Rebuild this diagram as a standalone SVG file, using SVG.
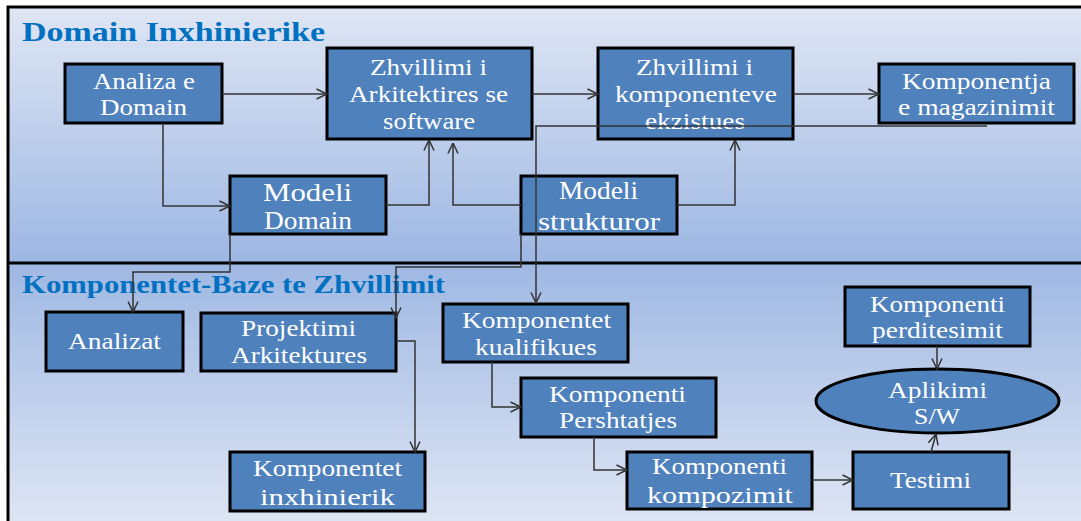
<svg xmlns="http://www.w3.org/2000/svg" width="1081" height="521" viewBox="0 0 1081 521">
<defs>
<linearGradient id="gTop" x1="0" y1="0" x2="0" y2="1">
<stop offset="0" stop-color="#dfe6f4"/>
<stop offset="1" stop-color="#9db7e3"/>
</linearGradient>
<linearGradient id="gBot" x1="0" y1="0" x2="0" y2="1">
<stop offset="0" stop-color="#9fb8e3"/>
<stop offset="1" stop-color="#e0e7f4"/>
</linearGradient>
<marker id="arr" viewBox="0 0 12 12" refX="11.5" refY="6" markerWidth="12" markerHeight="12" markerUnits="userSpaceOnUse" orient="auto">
<path d="M1,1 L11.5,6 L1,11" fill="none" stroke="#333" stroke-width="1.5"/>
</marker>
</defs>
<style>
.box{fill:#4f81bd;stroke:#000;stroke-width:3}
.t{font-family:"Liberation Serif","Times New Roman",serif;font-size:23px;fill:#fff;text-anchor:middle}
.big{font-size:25px}
.title{font-family:"Liberation Serif","Times New Roman",serif;font-weight:bold;fill:#0070c0}
.c{fill:none;stroke:#333;stroke-width:1.5;marker-end:url(#arr)}
</style>
<rect x="0" y="0" width="1081" height="521" fill="#ffffff"/>
<rect x="8" y="7" width="1100" height="256" fill="url(#gTop)"/>
<rect x="8" y="263" width="1100" height="270" fill="url(#gBot)"/>
<path d="M8,540 L8,7 L1090,7" fill="none" stroke="#000" stroke-width="3"/>
<line x1="8" y1="263" x2="1090" y2="263" stroke="#000" stroke-width="3"/>
<text class="title" x="22" y="41" font-size="28" textLength="303" lengthAdjust="spacingAndGlyphs">Domain Inxhinierike</text>
<text class="title" x="22" y="293" font-size="25" textLength="423" lengthAdjust="spacingAndGlyphs">Komponentet-Baze te Zhvillimit</text>

<g id="analiza">
<rect class="box" x="65" y="64" width="157" height="59"/>
<text class="t" x="144" y="89" textLength="102" lengthAdjust="spacingAndGlyphs">Analiza e</text>
<text class="t" x="143.5" y="115" textLength="87" lengthAdjust="spacingAndGlyphs">Domain</text>
</g>
<g id="zhvArk">
<rect class="box" x="327" y="48" width="205" height="91"/>
<text class="t" x="428.5" y="75" textLength="117" lengthAdjust="spacingAndGlyphs">Zhvillimi i</text>
<text class="t" x="428.5" y="102" textLength="159" lengthAdjust="spacingAndGlyphs">Arkitektires se</text>
<text class="t" x="429" y="129" textLength="92" lengthAdjust="spacingAndGlyphs">software</text>
</g>
<g id="zhvKomp">
<rect class="box" x="598" y="48" width="195" height="91"/>
<text class="t" x="694.5" y="75" textLength="117" lengthAdjust="spacingAndGlyphs">Zhvillimi i</text>
<text class="t" x="696" y="102" textLength="162" lengthAdjust="spacingAndGlyphs">komponenteve</text>
<text class="t" x="695" y="129" textLength="100" lengthAdjust="spacingAndGlyphs">ekzistues</text>
</g>
<g id="magazinimit">
<rect class="box" x="879" y="64" width="195" height="59"/>
<text class="t" x="976.5" y="89" textLength="149" lengthAdjust="spacingAndGlyphs">Komponentja</text>
<text class="t" x="976.5" y="115" textLength="157" lengthAdjust="spacingAndGlyphs">e magazinimit</text>
</g>
<g id="modeliDomain">
<rect class="box" x="230" y="176" width="156" height="58"/>
<text class="t big" x="307.5" y="201" textLength="89" lengthAdjust="spacingAndGlyphs">Modeli</text>
<text class="t big" x="308" y="229" textLength="88" lengthAdjust="spacingAndGlyphs">Domain</text>
</g>
<g id="modeliStrukturor">
<rect class="box" x="521" y="176" width="156" height="58"/>
<text class="t big" x="598.5" y="199" textLength="79" lengthAdjust="spacingAndGlyphs">Modeli</text>
<text class="t big" x="599" y="230" textLength="122" lengthAdjust="spacingAndGlyphs">strukturor</text>
</g>
<g id="analizat">
<rect class="box" x="46" y="312" width="137" height="59"/>
<text class="t" x="114.5" y="349" textLength="93" lengthAdjust="spacingAndGlyphs">Analizat</text>
</g>
<g id="projektimi">
<rect class="box" x="201" y="313" width="195" height="58"/>
<text class="t" x="298.5" y="336" textLength="115" lengthAdjust="spacingAndGlyphs">Projektimi</text>
<text class="t" x="299" y="363" textLength="136" lengthAdjust="spacingAndGlyphs">Arkitektures</text>
</g>
<g id="inxhinierik">
<rect class="box" x="230" y="452" width="195" height="59"/>
<text class="t" x="327.5" y="476" textLength="149" lengthAdjust="spacingAndGlyphs">Komponentet</text>
<text class="t" x="327.5" y="505" textLength="135" lengthAdjust="spacingAndGlyphs">inxhinierik</text>
</g>
<g id="kualifikues">
<rect class="box" x="443" y="304" width="185" height="58"/>
<text class="t" x="536.5" y="328" textLength="149" lengthAdjust="spacingAndGlyphs">Komponentet</text>
<text class="t" x="536" y="355" textLength="122" lengthAdjust="spacingAndGlyphs">kualifikues</text>
</g>
<g id="pershtatjes">
<rect class="box" x="521" y="378" width="195" height="59"/>
<text class="t" x="617.5" y="402" textLength="137" lengthAdjust="spacingAndGlyphs">Komponenti</text>
<text class="t" x="618" y="428" textLength="118" lengthAdjust="spacingAndGlyphs">Pershtatjes</text>
</g>
<g id="kompozimit">
<rect class="box" x="627" y="452" width="185" height="57"/>
<text class="t" x="719.5" y="474" textLength="135" lengthAdjust="spacingAndGlyphs">Komponenti</text>
<text class="t" x="720" y="503" textLength="146" lengthAdjust="spacingAndGlyphs">kompozimit</text>
</g>
<g id="perditesimit">
<rect class="box" x="845" y="287" width="185" height="59"/>
<text class="t" x="937.5" y="312" textLength="135" lengthAdjust="spacingAndGlyphs">Komponenti</text>
<text class="t" x="937.5" y="338" textLength="131" lengthAdjust="spacingAndGlyphs">perditesimit</text>
</g>
<g id="aplikimi">
<ellipse class="box" cx="937.5" cy="401" rx="121.5" ry="32"/>
<text class="t" x="937.5" y="398" textLength="99" lengthAdjust="spacingAndGlyphs">Aplikimi</text>
<text class="t" x="937" y="424" textLength="46" lengthAdjust="spacingAndGlyphs">S/W</text>
</g>
<g id="testimi">
<rect class="box" x="853" y="452" width="156" height="57"/>
<text class="t" x="930.5" y="488" textLength="81" lengthAdjust="spacingAndGlyphs">Testimi</text>
</g>

<g id="connectors">
<path class="c" d="M222,94 L327,94"/>
<path class="c" d="M163,123 L163,206 L230,206"/>
<path class="c" d="M386,205 L429,205 L429,140"/>
<path class="c" d="M521,205 L453,205 L453,143"/>
<path class="c" d="M532,94 L598,94"/>
<path class="c" d="M793,94 L879,94"/>
<path class="c" d="M677,205 L735,205 L735,140"/>
<path class="c" d="M987,126 L536,126 L536,303"/>
<path class="c" d="M521,234 L521,267 L396,267 L396,318"/>
<path class="c" d="M230,234 L230,272 L133,272 L133,312"/>
<path class="c" d="M396,341 L415,341 L415,452"/>
<path class="c" d="M492,362 L492,407 L521,407"/>
<path class="c" d="M594,437 L594,470 L627,470"/>
<path class="c" d="M812,480 L853,480"/>
<path class="c" d="M937,346 L937,369"/>
<path class="c" d="M931,452 L936,434"/>
</g>
</svg>
